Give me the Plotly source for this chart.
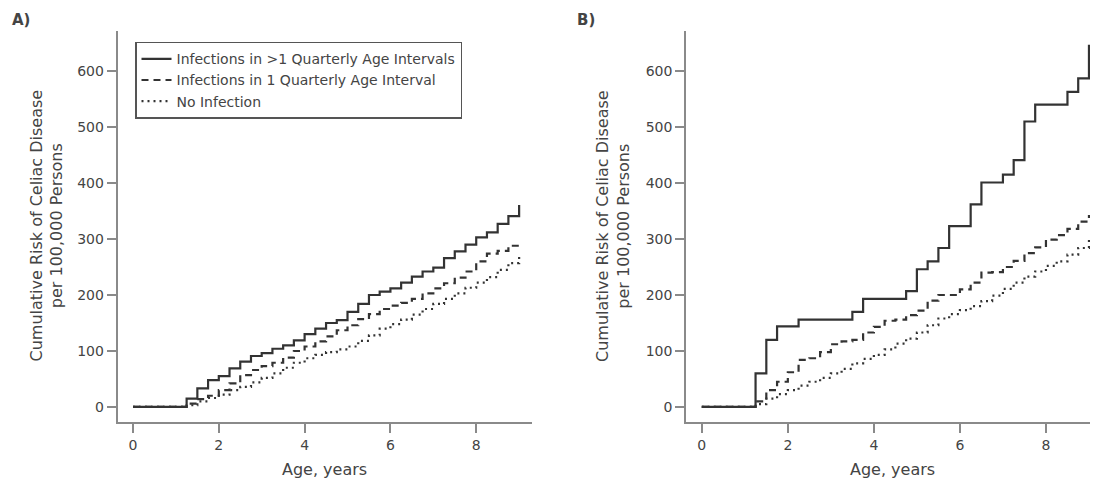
import plotly.graph_objects as go

# ---- data ----
ages = [0, 1.25, 1.5, 1.75, 2, 2.25, 2.5, 2.75, 3, 3.25, 3.5, 3.75, 4, 4.25, 4.5, 4.75,
        5, 5.25, 5.5, 5.75, 6, 6.25, 6.5, 6.75, 7, 7.25, 7.5, 7.75, 8, 8.25, 8.5, 8.75, 9]

multi_a = [0, 15, 33, 48, 55, 69, 81, 91, 96, 104, 110, 119, 130, 140, 150, 155,
           170, 184, 200, 206, 212, 222, 233, 242, 249, 266, 278, 290, 303, 312, 327, 341, 361]
one_a = [0, 6, 14, 20, 30, 42, 57, 66, 73, 79, 88, 100, 108, 117, 126, 137,
         146, 157, 166, 175, 181, 186, 193, 203, 212, 221, 231, 242, 260, 274, 279, 288, 291]
none_a = [0, 3, 10, 16, 22, 30, 36, 44, 52, 60, 70, 79, 87, 93, 98, 103,
          108, 118, 128, 140, 148, 156, 165, 175, 184, 193, 203, 213, 222, 232, 245, 257, 272]

multi_b = [0, 60, 120, 144, 144, 156, 156, 156, 156, 156, 170, 193, 193, 193, 193, 207,
           246, 260, 284, 323, 323, 362, 401, 401, 415, 441, 510, 540, 540, 540, 563, 587, 647]
one_b = [0, 10, 30, 45, 62, 84, 87, 98, 112, 117, 120, 133, 143, 154, 156, 164,
         172, 190, 200, 200, 210, 222, 240, 241, 250, 261, 275, 285, 299, 307, 318, 331, 343]
none_b = [0, 5, 15, 23, 30, 38, 45, 52, 60, 68, 78, 86, 93, 103, 113, 122,
          133, 146, 158, 166, 173, 180, 189, 199, 211, 222, 233, 242, 252, 260, 272, 284, 300]

series_names = ["Infections in >1 Quarterly Age Intervals",
                "Infections in 1 Quarterly Age Interval",
                "No Infection"]
x_ticks = [0, 2, 4, 6, 8]
y_ticks = [0, 100, 200, 300, 400, 500, 600]
panel_labels = ["A)", "B)"]
x_title = "Age, years"
y_title = "Cumulative Risk of Celiac Disease<br>per 100,000 Persons"

# ---- styling ----
OFF = 8                      # page body margin offset
W, H = 1098 - OFF, 481 - OFF


def px(x):
    return (x - OFF) / W


def py(y):
    return 1 - (y - OFF) / H


FONT = "DejaVu Sans"
TXT = "#444444"
LINE = "#333333"
AX = "#8a8a8a"
dashes = ["solid", "7px,5px", "2px,4px"]

fig = go.Figure()

panels = [
    (("x", "y"), [multi_a, one_a, none_a], True),
    (("x2", "y2"), [multi_b, one_b, none_b], False),
]
for (xa, ya), data, showleg in panels:
    for idx in [2, 1, 0]:
        fig.add_trace(go.Scatter(
            x=ages, y=data[idx], mode="lines", line_shape="hv",
            line=dict(color=LINE, width=2.2, dash=dashes[idx]),
            name=series_names[idx], legendrank=idx + 1,
            showlegend=showleg, xaxis=xa, yaxis=ya, hoverinfo="skip"))

ydom = [py(422), py(31)]
common_x = dict(showline=True, linecolor=AX, linewidth=1.6, ticks="outside", ticklen=9,
                tickwidth=1.5, tickcolor=AX, tickvals=x_ticks, showgrid=False, zeroline=False,
                tickfont=dict(family=FONT, size=14, color=TXT))
common_y = dict(showline=True, linecolor=AX, linewidth=1.6, ticks="outside", ticklen=9,
                tickwidth=1.5, tickcolor=AX, tickvals=y_ticks, showgrid=False, zeroline=False,
                range=[-26.9, 671.7], domain=ydom,
                tickfont=dict(family=FONT, size=14, color=TXT))

fig.update_layout(
    width=W, height=H, margin=dict(l=0, r=0, t=0, b=0),
    paper_bgcolor="white", plot_bgcolor="white",
    font=dict(family=FONT, color=TXT),
    xaxis=dict(common_x, domain=[px(117.5), px(532)], range=[-0.361, 9.30], anchor="y"),
    yaxis=dict(common_y, anchor="x"),
    xaxis2=dict(common_x, domain=[px(686), 1.0], range=[-0.367, 9.21], anchor="y2"),
    yaxis2=dict(common_y, anchor="x2"),
    legend=dict(x=px(135), y=py(41.7), xanchor="left", yanchor="top",
                bordercolor="#555555", borderwidth=1.5, bgcolor="white",
                font=dict(family=FONT, size=14, color=TXT),
                traceorder="normal", itemwidth=30, tracegroupgap=0),
    showlegend=True,
)

ann = []
for lab, cx in zip(panel_labels, [21, 586]):
    ann.append(dict(text="<b>" + lab + "</b>", x=px(cx), y=py(20), xref="paper", yref="paper",
                    xanchor="center", yanchor="middle", showarrow=False,
                    font=dict(family=FONT, size=15, color=TXT)))
for cx in [324.8, 892]:
    ann.append(dict(text=x_title, x=px(cx), y=py(469), xref="paper", yref="paper",
                    xanchor="center", yanchor="middle", showarrow=False,
                    font=dict(family=FONT, size=16, color=TXT)))
for cx in [46.5, 613]:
    ann.append(dict(text=y_title, x=px(cx), y=py(226), xref="paper", yref="paper",
                    xanchor="center", yanchor="middle", showarrow=False, textangle=-90,
                    font=dict(family=FONT, size=16, color=TXT)))
fig.update_layout(annotations=ann)

fig.write_html("out.html")
